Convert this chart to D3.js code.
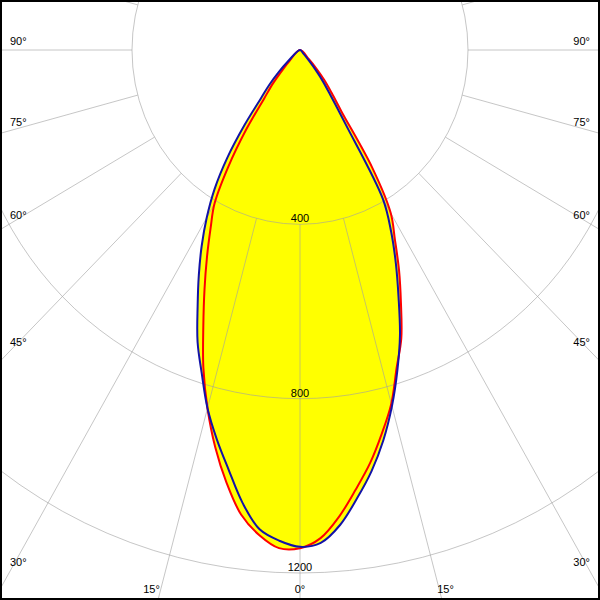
<!DOCTYPE html>
<html><head><meta charset="utf-8">
<script src="https://cdn.jsdelivr.net/npm/d3@7"></script>
<style>html,body{margin:0;padding:0;background:#fff}svg{display:block}</style>
</head><body>
<script>
// ---- data (intensity in cd vs gamma angle) ----
const gammas    = [0, 2.5, 5, 7.5, 10, 12.5, 15, 17.5, 20, 22.5, 25, 27.5, 30, 32.5, 35, 37.5, 40, 42.5, 45, 47.5, 50, 60, 70, 80, 90];
const redRight  = [1143, 1121, 1074, 1017, 962, 901, 840, 765, 705, 628, 558, 489, 432, 320, 172, 123, 90, 57, 30, 0, 0, 0, 0, 0, 0];
const redLeft   = [1143, 1144, 1117, 1075, 1008, 933, 851, 765, 673, 594, 524, 461, 407, 318, 225, 140, 100, 60, 35, 0, 0, 0, 0, 0, 0];
const blueRight = [1141, 1132, 1094, 1038, 981, 917, 846, 771, 696, 613, 540, 470, 395, 203, 126, 85, 47, 25, 10, 0, 0, 0, 0, 0, 0];
const blueLeft  = [1140, 1127, 1104, 1048, 978, 915, 851, 778, 713, 637, 570, 507, 444, 379, 302, 217, 145, 108, 71, 40, 0, 0, 0, 0, 0];
const ringValues  = [400, 800, 1200, 1600];
const ringLabels  = ["400", "800", "1200"];
const spokeAngles = d3.range(0, 360, 15);
const angleLabels = [0, 15, 30, 45, 60, 75, 90];

// ---- layout ----
const W = 600, H = 600, cx = 300, cy = 50;
const rx = d3.scaleLinear().domain([0, 1200]).range([0, 504]);
const ry = d3.scaleLinear().domain([0, 1200]).range([0, 523]);
const rad = d => d * Math.PI / 180;
const pt = (g, v, side) => [cx + side * rx(v) * Math.sin(rad(g)), cy + ry(v) * Math.cos(rad(g))];

const svg = d3.select("body").append("svg").attr("width", W).attr("height", H)
  .style("font-family", "'Liberation Sans', Arial, sans-serif").style("font-size", "11px");
svg.append("rect").attr("width", W).attr("height", H).attr("fill", "#fff");

function curvePoints(left, right) {
  const pts = [];
  let lastZero = false;
  for (let i = gammas.length - 1; i >= 0; i--) {
    if (left[i] === 0 && i > 0 && left[i - 1] === 0) continue;
    pts.push(pt(gammas[i], left[i], -1));
  }
  for (let i = 1; i < gammas.length; i++) {
    if (right[i] === 0 && right[i - 1] === 0) continue;
    if (right[i] === 0) { continue; }
    pts.push(pt(gammas[i], right[i], 1));
  }
  return pts;
}
const line = d3.line().curve(d3.curveCatmullRomClosed.alpha(0.5));
const redPts = curvePoints(redLeft, redRight);
const bluePts = curvePoints(blueLeft, blueRight);

// yellow fill (union of both planes)
svg.append("path").attr("d", line(redPts)).attr("fill", "#ffff00");
svg.append("path").attr("d", line(bluePts)).attr("fill", "#ffff00");

// grid
const grid = svg.append("g").attr("stroke", "#a0a0a0").attr("stroke-opacity", 0.6).attr("fill", "none").attr("stroke-width", 1);
ringValues.forEach(v => grid.append("ellipse").attr("cx", cx).attr("cy", cy).attr("rx", rx(v)).attr("ry", ry(v)));
spokeAngles.forEach(a => {
  const p0 = pt(a, 400, 1), p1 = pt(a, 3000, 1);
  grid.append("line").attr("x1", p0[0]).attr("y1", p0[1]).attr("x2", p1[0]).attr("y2", p1[1]);
});

// curves
svg.append("path").attr("d", line(redPts)).attr("fill", "none").attr("stroke", "#ff0000").attr("stroke-width", 2).attr("stroke-linejoin", "round");
svg.append("path").attr("d", line(bluePts)).attr("fill", "none").attr("stroke", "#1212a8").attr("stroke-width", 2).attr("stroke-linejoin", "round");

// ring labels
ringLabels.forEach(t => {
  const v = +t;
  svg.append("text").attr("x", cx).attr("y", cy + ry(v) - 2).attr("text-anchor", "middle").attr("fill", "#000").text(t);
});

// angle labels
const xL = 10, xR = 590, yB = 593;
angleLabels.forEach(a => {
  [-1, 1].forEach(side => {
    if (a === 0 && side === -1) return;
    const label = a + "°";
    const s = Math.sin(rad(a)), c = Math.cos(rad(a));
    let x, y, anchor;
    let edgeY = Infinity;
    if (s > 1e-6) {
      const t = (xR - cx) / (rx(1) * s);
      edgeY = cy + t * ry(1) * c;
    }
    if (edgeY < 585) {
      y = edgeY - 5;
      x = side > 0 ? xR : xL;
      anchor = side > 0 ? "end" : "start";
    } else {
      const t = (yB - cy) / (ry(1) * c);
      const xr = cx + side * t * rx(1) * s;
      y = yB;
      if (a === 0) { x = cx; anchor = "middle"; }
      else if (side > 0) { x = xr - 3; anchor = "start"; }
      else { x = xr; anchor = "end"; }
    }
    svg.append("text").attr("x", x).attr("y", y).attr("text-anchor", anchor).attr("fill", "#000").text(label);
  });
});

// border
svg.append("rect").attr("x", 1).attr("y", 1).attr("width", W - 2).attr("height", H - 2)
  .attr("fill", "none").attr("stroke", "#000").attr("stroke-width", 2);
</script>
</body></html>
